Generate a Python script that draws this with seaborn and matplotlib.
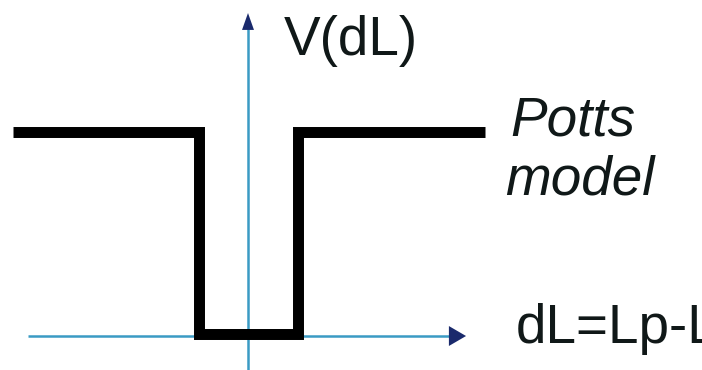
import numpy as np
import pandas as pd
import matplotlib
matplotlib.use("Agg")
import matplotlib.pyplot as plt
from matplotlib.patches import Polygon
import seaborn as sns

# ---- data (Potts model step potential) ----
dL = [-4.80, -1.00, -1.00, 1.02, 1.02, 4.84]
V = [1.00, 1.00, 0.01, 0.01, 1.00, 1.00]
y_label = "V(dL)"
x_label = "dL=Lp-Ln"
model_lines = ["Potts", "model"]

W, H = 702, 370
sns.set_theme(style="white")
plt.rcParams["font.family"] = ["Liberation Sans", "DejaVu Sans"]

fig = plt.figure(figsize=(W / 100, H / 100), dpi=100)
ax = fig.add_axes([0, 0, 1, 1])
ax.set_xlim(-5.061, 9.265)
ax.set_ylim(-0.167, 1.651)
ax.axis("off")

axis_col = "#3a9bc4"
head_col = "#1a2a6c"

# axes lines
x_start, x_tip = -4.49, 4.45
y_tip = 1.587
ax.plot([x_start, x_tip - 0.3], [0, 0], color=axis_col, lw=1.8, zorder=1, solid_capstyle="butt")
ax.plot([0, 0], [-0.167, y_tip - 0.06], color=axis_col, lw=1.8, zorder=1, solid_capstyle="butt")
# arrow heads
ax.add_patch(Polygon([[0, y_tip], [-0.122, y_tip - 0.083], [0.122, y_tip - 0.083]],
                     closed=True, color=head_col, zorder=2, lw=0))
ax.add_patch(Polygon([[x_tip, 0], [x_tip - 0.35, 0.049], [x_tip - 0.35, -0.049]],
                     closed=True, color=head_col, zorder=2, lw=0))

# step potential
df = pd.DataFrame({"dL": dL, "V": V})
sns.lineplot(data=df, x="dL", y="V", sort=False, estimator=None, color="black",
             lw=7.9, ax=ax, zorder=3, solid_joinstyle="miter", solid_capstyle="butt")
ax.axis("off")

tc = "#101818"
fs = 39.5
def ftext(x, y, s, **kw):
    fig.text(x / W, 1 - y / H, s, fontsize=fs, color=tc, va="baseline", ha="left", **kw)

ftext(284, 55, y_label)
ftext(510, 135, model_lines[0], style="italic")
ftext(505, 195, model_lines[1], style="italic")
ftext(516, 343, x_label)
ftext(697, 178, "'", style="italic")

fig.savefig("out.png", dpi=100)
